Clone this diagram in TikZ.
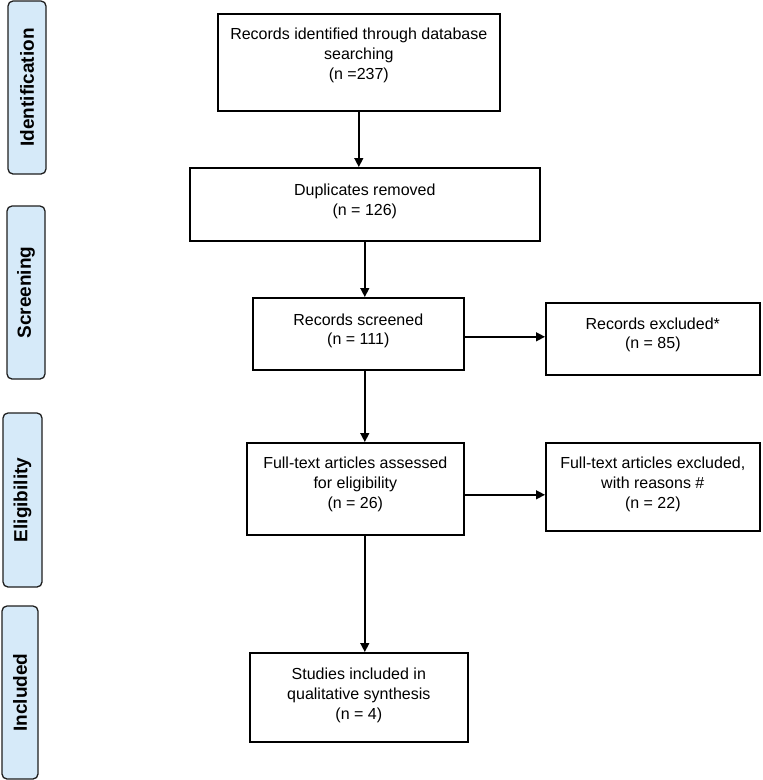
\documentclass[tikz,border=0pt]{standalone}
\usepackage{fontspec}
\setmainfont{Liberation Sans}
\usetikzlibrary{arrows.meta}
\definecolor{stagefill}{RGB}{214,234,249}
\definecolor{stageline}{RGB}{30,30,30}
\tikzset{
  box/.style={draw=black, line width=1.6pt, rectangle, inner sep=0pt, anchor=north west},
  txt/.style={align=center, inner sep=0pt, font=\fontsize{16}{19.8}\selectfont},
  stage/.style={draw=stageline, fill=stagefill, line width=1.3pt, rounded corners=5pt,
    rotate=90, inner sep=0pt, font=\fontsize{19}{22}\selectfont\bfseries},
  arr/.style={line width=1.4pt, -{Triangle[length=9pt,width=9pt]}}
}
\begin{document}
\begin{tikzpicture}[x=1pt,y=1pt]
\useasboundingbox (0,0) rectangle (763,-780);
% stage labels
\node[stage, minimum width=173pt, minimum height=38pt] (s1) at (27,-87.5) {Identification};
\node[stage, minimum width=173pt, minimum height=38pt] (s2) at (26,-292.5) {Screening};
\node[stage, minimum width=174pt, minimum height=39pt] (s3) at (22.5,-500) {Eligibility};
\node[stage, minimum width=173pt, minimum height=36pt] (s4) at (20,-692.5) {Included};
% boxes
\node[box, minimum width=282pt, minimum height=97pt] (b1) at (217,-13) {};
\node[box, minimum width=350pt, minimum height=73pt] (b2) at (189,-167) {};
\node[box, minimum width=211pt, minimum height=72pt] (b3) at (252,-297) {};
\node[box, minimum width=214pt, minimum height=72pt] (b4) at (545,-302) {};
\node[box, minimum width=217pt, minimum height=92pt] (b5) at (246,-442) {};
\node[box, minimum width=214pt, minimum height=88pt] (b6) at (545,-442) {};
\node[box, minimum width=218pt, minimum height=89pt] (b7) at (249,-652) {};
% texts
\node[txt] (t1) at ([yshift=7pt]b1.center) {Records identified through database\\searching\\(n =237)};
\node[txt] (t2) at ([yshift=3pt]b2.center) {Duplicates removed\\(n = 126)};
\node[txt] (t3) at ([yshift=3pt]b3.center) {Records screened\\(n = 111)};
\node[txt] (t4) at ([yshift=4pt]b4.center) {Records excluded*\\(n = 85)};
\node[txt] (t5) at ([yshift=4.5pt]b5.center) {Full-text articles assessed\\for eligibility\\(n = 26)};
\node[txt] (t6) at ([yshift=2.5pt]b6.center) {Full-text articles excluded,\\with reasons \#\\(n = 22)};
\node[txt] (t7) at ([yshift=2pt]b7.center) {Studies included in\\qualitative synthesis\\(n = 4)};
% arrows
\draw[arr] (b1.south) -- (b1.south |- b2.north);
\draw[arr] (b2.south) -- (b2.south |- b3.north);
\draw[arr] (b2.south |- b3.south) -- (b2.south |- b5.north);
\draw[arr] (b2.south |- b5.south) -- (b2.south |- b7.north);
\draw[arr] ([yshift=-3pt]b3.east) -- ([yshift=-3pt]b3.east -| b4.west);
\draw[arr] ([yshift=-6pt]b5.east) -- ([yshift=-6pt]b5.east -| b6.west);
\end{tikzpicture}
\end{document}
